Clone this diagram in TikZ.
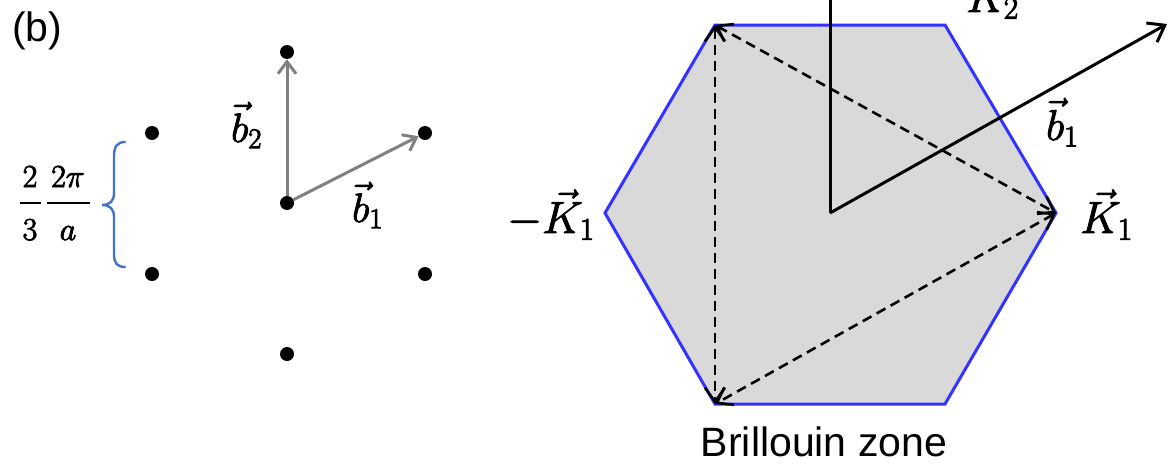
\RequirePackage{fix-cm}
\documentclass[tikz,border=0pt]{standalone}
\usepackage{fontspec}
\newfontfamily\arialf{Liberation Sans}
\usetikzlibrary{arrows.meta}
\definecolor{hexblue}{RGB}{51,51,255}
\definecolor{hexfill}{RGB}{217,217,217}
\definecolor{bracebl}{RGB}{68,114,196}
\definecolor{vecgray}{RGB}{128,128,128}
\newcommand\thickglyphs[1]{\special{pdf:literal direct 2 Tr 0.9 w}#1\special{pdf:literal direct 0 Tr}}
\tikzset{
  latdot/.style={circle,fill=black,minimum size=14pt,inner sep=0pt},
  mlab/.style={inner sep=0pt,anchor=base west,font=\fontsize{45}{52}\selectfont},
  rblab/.style={inner sep=0pt,anchor=base west,font=\fontsize{43}{50}\selectfont},
  slab/.style={inner sep=0pt,anchor=base west,font=\fontsize{41}{48}\selectfont},
  fraclab/.style={inner sep=0pt,anchor=base,font=\fontsize{32}{38}\selectfont},
  sanslab/.style={inner sep=0pt,font=\arialf\fontsize{41}{48}\selectfont},
  grayvec/.style={draw=vecgray,line width=3pt,-{Straight Barb[length=12pt,width=18pt]}},
  blackvec/.style={draw=black,line width=3pt,-{Straight Barb[length=15pt,width=22pt]}},
  dashvec/.style={draw=black,line width=2.6pt,dash pattern=on 10pt off 6pt,
    {Straight Barb[length=14pt,width=20pt]}-{Straight Barb[length=14pt,width=20pt]}},
  hexzone/.style={draw=hexblue,fill=hexfill,line width=3pt,line join=miter},
  bracestyle/.style={draw=bracebl,line width=2.4pt,line cap=round},
  fracrule/.style={draw=black,line width=2.2pt}
}
\begin{document}
\begin{tikzpicture}[x=1pt,y=-1pt]
\useasboundingbox (0,0) rectangle (1169,463);
\clip (0,0) rectangle (1169,463);

% ---- left panel: reciprocal lattice ----
\node[sanslab,anchor=base west] (lblb) at (12,41) {(b)};

\node[latdot] (p1) at (152,133) {};
\node[latdot] (p2) at (152,274) {};
\node[latdot] (p3) at (287,52) {};
\node[latdot] (p0) at (287,203) {};
\node[latdot] (p4) at (287,354) {};
\node[latdot] (p5) at (425,133) {};
\node[latdot] (p6) at (425,274) {};

\draw[grayvec] (p0) -- (p3);
\draw[grayvec] (p0) -- (p5);
\node[slab] (lb2) at (231,142) {\thickglyphs{$\vec{b}_2$}};
\node[slab] (lb1) at (352,222) {\thickglyphs{$\vec{b}_1$}};

% fraction 2/3 * 2pi/a
\node[fraclab] (fn1) at (30,187) {\thickglyphs{$2$}};
\node[fraclab] (fd1) at (30,240) {\thickglyphs{$3$}};
\node[fraclab] (fn2) at (68,187) {\thickglyphs{$2\pi$}};
\node[fraclab] (fd2) at (68,240) {\thickglyphs{$a$}};
\draw[fracrule] (20,203) -- (41,203);
\draw[fracrule] (47,203) -- (90,203);

% brace
\draw[bracestyle] (125,142) .. controls (117,142) and (114,147) .. (114,156)
  -- (114,193) .. controls (114,201) and (110,205) .. (102,205)
  .. controls (110,205) and (114,209) .. (114,217)
  -- (114,254) .. controls (114,263) and (117,267) .. (125,267);

% ---- right panel: Brillouin zone ----
\coordinate (hA) at (715,25);
\coordinate (hB) at (945,25);
\coordinate (hC) at (1056,213);
\coordinate (hD) at (945,404);
\coordinate (hE) at (715,404);
\coordinate (hF) at (605,213);
\coordinate (O) at (830,213);
\coordinate (K2end) at (830,-40);
\coordinate (B1end) at (1167,24);

\draw[hexzone] (hA) -- (hB) -- (hC) -- (hD) -- (hE) -- (hF) -- cycle;

\draw[dashvec] (hA) -- (hE);
\draw[dashvec] (hA) -- (hC);
\draw[dashvec] (hC) -- (hE);

\draw[blackvec] (O) -- (K2end);
\draw[blackvec] (O) -- (B1end);

\node[mlab] (lK2) at (966,12) {\thickglyphs{$\vec{K}_2$}};
\node[rblab] (lrb1) at (1046,140) {\thickglyphs{$\vec{b}_1$}};
\node[mlab] (lK1) at (1080,233) {\thickglyphs{$\vec{K}_1$}};
\node[mlab] (lmK1) at (507,233) {\thickglyphs{$-\vec{K}_1$}};

\node[sanslab,anchor=base] (bz) at (824,456) {Brillouin zone};
\end{tikzpicture}
\end{document}
